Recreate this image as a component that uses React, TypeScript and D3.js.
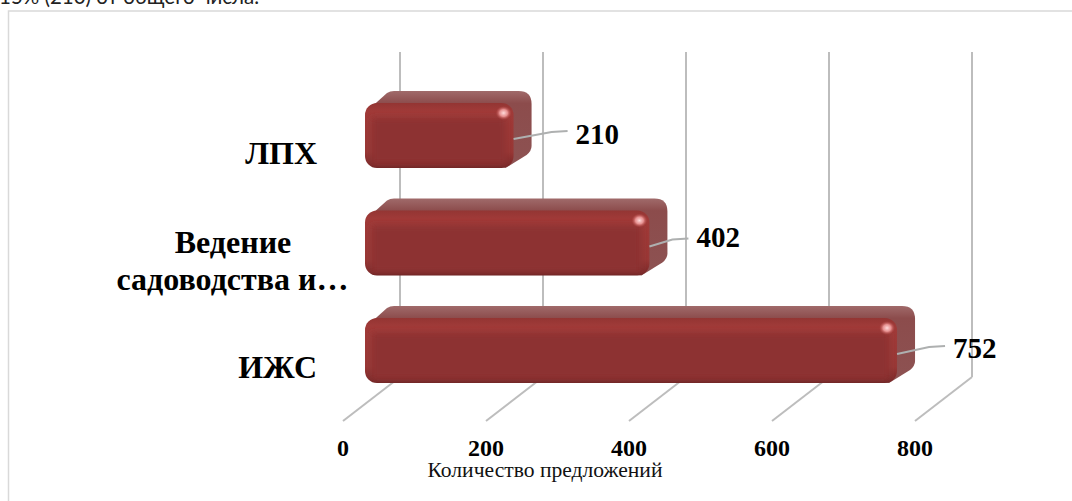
import React from "react";
import * as d3 from "d3";

const categories = ["ЛПХ", "Ведение садоводства и…", "ИЖС"];
const offers = [210, 402, 752];
const axisTicks = [0, 200, 400, 600, 800];
const axisTitle = "Количество предложений";
const introLine = "15% (210) от общего числа.";

const W = 1072;
const H = 501;
const serif = "'Liberation Serif', 'Times New Roman', serif";

// Floor edge of the 3D plot; the back wall sits one depth step behind it.
const floorX = d3.scaleLinear().domain([0, 800]).range([343, 915]);
const floorY = 421;
const wallDx = 57;
const wallDy = -44;
const wallTop = 52;

// Front plane of the bars.
const barX = d3.scaleLinear().domain([0, 800]).range([365, 931]);
const barY = d3.scaleBand<string>().domain(categories).range([103, 383]).paddingInner(0.395);
const sideDx = 18;
const sideDy = 12;

// Horizontal gap from bar to value label, and label baseline relative to the leader start.
const labelGaps = [62, 47, 56];
const labelDrops = [5, 1, 4];

// Outline of the whole box: front face plus the top and right faces behind it.
function barBody(x0: number, x1: number, y0: number, y1: number) {
  const xr = x1 + sideDx;
  const yt = y0 - sideDy;
  const p = d3.path();
  p.moveTo(x0 + 2, y0 + 8);
  p.lineTo(x0 + 22, yt + 2);
  p.quadraticCurveTo(x0 + 25, yt, x0 + 29, yt);
  p.lineTo(xr - 13, yt);
  p.quadraticCurveTo(xr, yt, xr, yt + 13);
  p.lineTo(xr, y1 - 22);
  p.quadraticCurveTo(xr, y1 - 17, xr - 5, y1 - 13);
  p.lineTo(x1 - 8, y1);
  p.closePath();
  return p.toString();
}

export default function App() {
  return (
    <svg
      width={W}
      height={H}
      viewBox={`0 0 ${W} ${H}`}
      style={{ position: "absolute", left: 0, top: 0, background: "#fff" }}
    >
      <defs>
        <linearGradient id="faceRim" x1="0" y1="0" x2="0" y2="1">
          <stop offset="0" stopColor="#933533" />
          <stop offset="0.12" stopColor="#a03a38" />
          <stop offset="0.75" stopColor="#983836" />
          <stop offset="0.95" stopColor="#7e2b2b" />
          <stop offset="1" stopColor="#6e2626" />
        </linearGradient>
        <linearGradient id="bodyFill" x1="0" y1="0" x2="0" y2="1">
          <stop offset="0" stopColor="#a06a6a" />
          <stop offset="0.16" stopColor="#8c4c4c" />
          <stop offset="1" stopColor="#8d5252" />
        </linearGradient>
        <radialGradient id="glint">
          <stop offset="0" stopColor="#ffdcdc" />
          <stop offset="0.5" stopColor="#ee9a9a" stopOpacity="0.9" />
          <stop offset="1" stopColor="#b84a48" stopOpacity="0" />
        </radialGradient>
        <filter id="soft" x="-10%" y="-20%" width="120%" height="140%">
          <feGaussianBlur stdDeviation="3" />
        </filter>
        {categories.map((c, i) => (
          <clipPath id={`face-${i}`} key={c}>
            <rect
              x={barX(0)}
              y={barY(c)!}
              width={barX(offers[i]) - barX(0)}
              height={barY.bandwidth()}
              rx={12}
            />
          </clipPath>
        ))}
      </defs>

      <text x={-1} y={4} fontFamily="Lato, 'Open Sans', sans-serif" fontSize={20.5} fill="#222">
        {introLine}
      </text>

      {/* outer frame */}
      <path d="M8.5 501V11H1072" fill="none" stroke="#d9d9d9" strokeWidth={1.5} />

      {/* back wall and floor lines */}
      {axisTicks.map((t) => (
        <g key={t} fill="none" stroke="#bdbdbd" strokeWidth={2}>
          <line x1={floorX(t) + wallDx} x2={floorX(t) + wallDx} y1={wallTop} y2={floorY + wallDy} />
          <line x1={floorX(t)} y1={floorY} x2={floorX(t) + wallDx} y2={floorY + wallDy} />
        </g>
      ))}

      {categories.map((c, i) => {
        const x0 = barX(0);
        const x1 = barX(offers[i]);
        const y0 = barY(c)!;
        const h = barY.bandwidth();
        const leadY = y0 + 36;
        const labelX = x1 + labelGaps[i];
        const leader = d3.path();
        leader.moveTo(x1, leadY);
        leader.lineTo(labelX - 24, leadY - 7);
        leader.lineTo(labelX - 8, leadY - 8);
        return (
          <g key={c}>
            <path d={barBody(x0, x1, y0, y0 + h)} fill="url(#bodyFill)" />
            <rect x={x0} y={y0} width={x1 - x0} height={h} rx={12} fill="url(#faceRim)" />
            {/* soft bevel: a blurred inner panel over the lighter rim */}
            <g clipPath={`url(#face-${i})`}>
              <rect
                x={x0 + 7}
                y={y0 + 15}
                width={x1 - x0 - 15}
                height={h - 19}
                fill="#8d3231"
                filter="url(#soft)"
              />
            </g>
            <ellipse cx={x1 - 10} cy={y0 + 10} rx={8} ry={7} fill="url(#glint)" />
            <path d={leader.toString()} fill="none" stroke="#aeb0b0" strokeWidth={2} />
            <text
              x={labelX}
              y={leadY + labelDrops[i]}
              fontFamily={serif}
              fontWeight="bold"
              fontSize={29}
              fill="#000"
            >
              {offers[i]}
            </text>
          </g>
        );
      })}

      {/* category labels */}
      <g fontFamily={serif} fontWeight="bold" fontSize={32} fill="#000">
        <text x={317} y={164} textAnchor="end">{categories[0]}</text>
        <text x={233} y={253} textAnchor="middle">Ведение</text>
        <text x={232.5} y={290} textAnchor="middle">садоводства и…</text>
        <text x={317} y={378} textAnchor="end">{categories[2]}</text>
      </g>

      {/* value axis */}
      <g fontFamily={serif} fontWeight="bold" fontSize={24} fill="#000" textAnchor="middle">
        {axisTicks.map((t) => (
          <text key={t} x={floorX(t)} y={456}>{t}</text>
        ))}
      </g>
      <text x={545} y={477} fontFamily={serif} fontSize={21.6} fill="#111" textAnchor="middle">
        {axisTitle}
      </text>
    </svg>
  );
}
